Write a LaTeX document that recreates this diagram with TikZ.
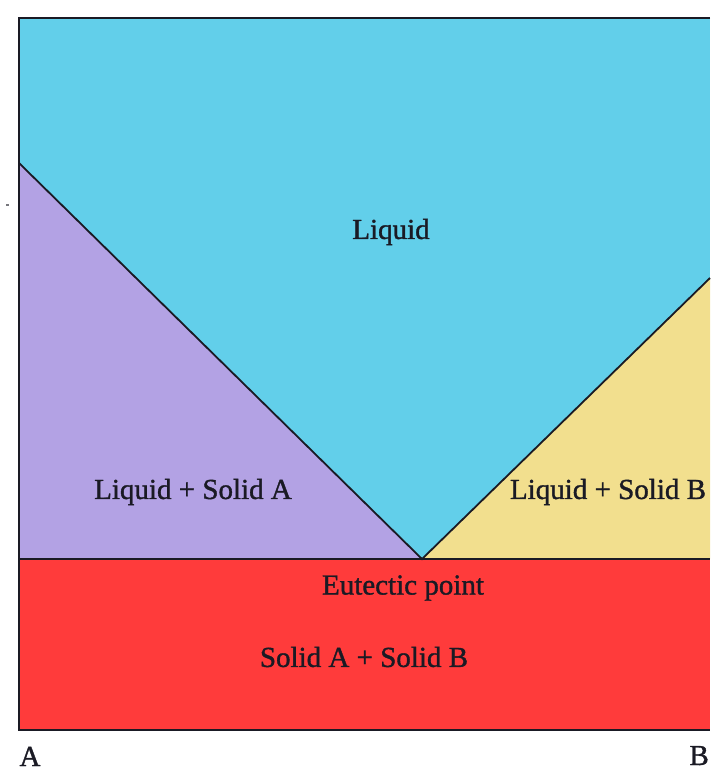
\documentclass[tikz,border=0pt]{standalone}
\usepackage{fontspec}
\setmainfont{Liberation Serif}
\newfontfamily\phasefont[UprightFeatures={FakeBold=1.2}]{Liberation Serif}
\usepackage{xcolor}
\usepackage{tikz}
\definecolor{liquidcyan}{HTML}{62CFEA}
\definecolor{solidapurple}{HTML}{B3A2E4}
\definecolor{solidbyellow}{HTML}{F2DF8E}
\definecolor{eutecticred}{HTML}{FF3B3B}
\definecolor{labelink}{HTML}{1A1A24}

\begin{document}
\begin{tikzpicture}[x=1pt,y=-1pt,
    phase/.style={font=\phasefont\fontsize{29}{30}\selectfont,text=labelink,inner sep=0pt},
    boundary/.style={line width=1.8pt,labelink}]
    \useasboundingbox[fill=white] (0,0) rectangle (710,771);
    \fill[liquidcyan] (19,18) rectangle (710,559);
    \fill[solidapurple] (19,163) -- (422,559) -- (19,559) -- cycle;
    \fill[solidbyellow] (422,559) -- (710,278) -- (710,559) -- cycle;
    \fill[eutecticred] (19,559) rectangle (710,730);
    \coordinate (eu) at (422,559);
    \draw[boundary] (710,18) -- (19,18) -- (19,730) -- (710,730);
    \draw[boundary] (19,559) -- (710,559);
    \draw[boundary] (19,163) -- (eu) -- (710,278);
    \fill[labelink!60] (6,204) rectangle (9,206);
    \node[phase] (liq) at (391,232) {Liquid};
    \node[phase] (liqA) at (193,492) {Liquid + Solid A};
    \node[phase] (liqB) at (608,492) {Liquid + Solid B};
    \node[phase] (eut) at (403,588) {Eutectic point};
    \node[phase] (solAB) at (364,657) {Solid A + Solid B};
    \node[phase,anchor=base] (labA) at (30,766) {A};
    \node[phase,anchor=base east] (labB) at (709,765) {B};
  \end{tikzpicture}
\end{document}
